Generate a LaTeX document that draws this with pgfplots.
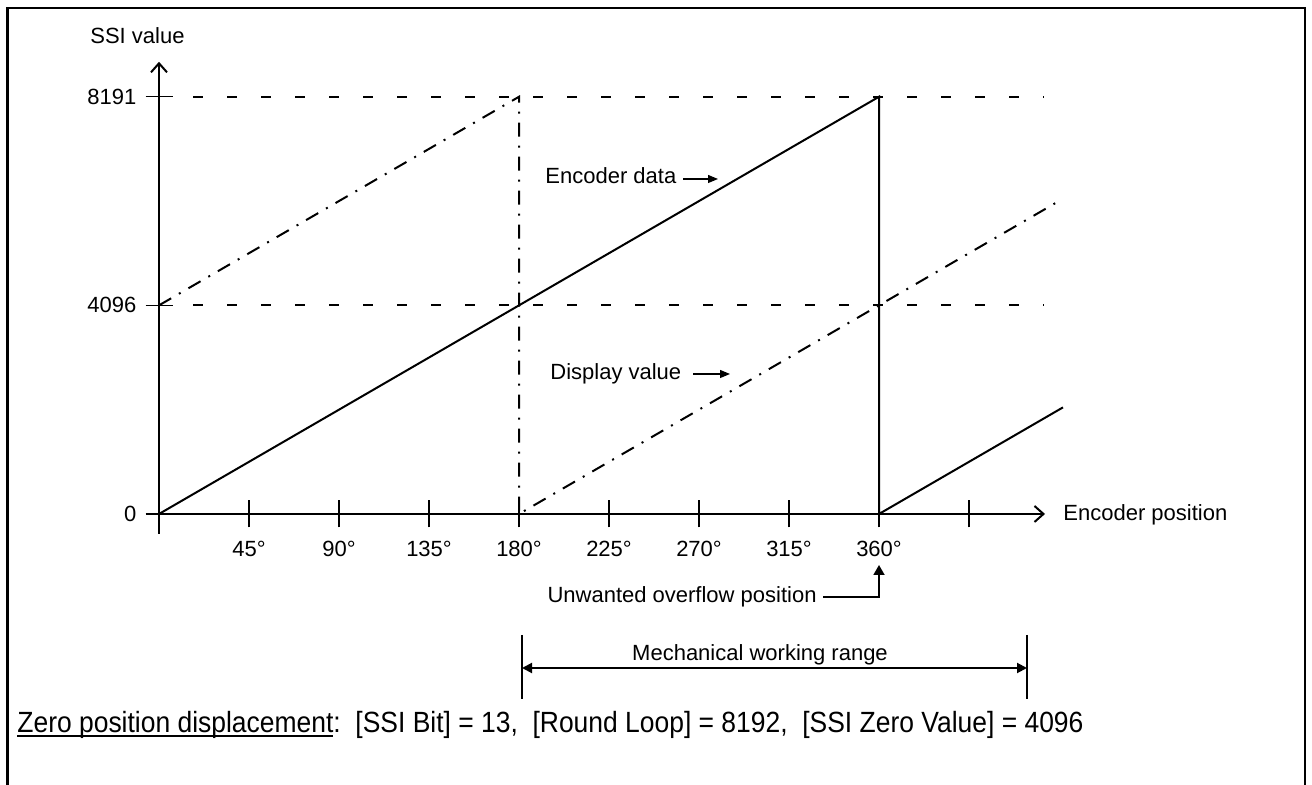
\documentclass[border=0pt]{standalone}
\usepackage{pgfplots}
\pgfplotsset{compat=1.18}
\usepackage{fontspec}
\setmainfont{Liberation Sans}
\usetikzlibrary{arrows.meta}

\newlength\ulw
\newcommand\ul[1]{\settowidth\ulw{#1}\rlap{\rule[-1.7pt]{\ulw}{0.75pt}}#1}

\begin{document}
\begin{tikzpicture}[font=\fontsize{11}{13}\selectfont]
% page is 1312 x 785 px, 1 px = 0.5pt
\useasboundingbox (0,0) rectangle (656pt,-392.5pt);
\begin{axis}[
    at={(79.5pt,-267pt)}, anchor=south west,
    scale only axis, width=443pt, height=236.1pt,
    xmin=0, xmax=443, ymin=-393, ymax=8877,
    clip=false,
    axis lines=middle,
    axis line style={line width=1pt, -{Straight Barb[length=4.5pt,width=8pt]}},
    xtick={45,90,...,405},
    xticklabels={45°,90°,135°,180°,225°,270°,315°,360°,{}},
    ytick={0,4096,8191},
    yticklabels={0,4096,8191},
    hide obscured x ticks=false, hide obscured y ticks=false,
    major tick length=13.5pt, tick align=center,
    tick style={black, line width=0.6pt},
    tick label style={font=\fontsize{11}{13}\selectfont},
    /pgf/number format/assume math mode=true,
    xticklabel style={anchor=north, yshift=-3.5pt},
    yticklabel style={anchor=east, xshift=-1pt},
]
% encoder data (sawtooth)
\addplot[black, line width=1pt] coordinates {(0,0) (360,8191) (360,0) (452,2093)};
% display value, shifted by the zero value
\addplot[black, line width=1pt, dash pattern=on 7pt off 4.5pt on 1pt off 4.5pt]
    coordinates {(0,4096) (180,8191) (180,0) (450,6144)};
% reference levels
\addplot[black, line width=1.1pt, dash pattern=on 5pt off 12pt] coordinates {(17,8191) (442.5,8191)};
\addplot[black, line width=1.1pt, dash pattern=on 5pt off 12pt] coordinates {(17,4096) (442.5,4096)};
\end{axis}

\begin{scope}[x=0.5pt, y=-0.5pt]
% frame
\draw[line width=1.2pt] (7.5,785) -- (7.5,8) -- (1305,8) -- (1305,785);
\node[anchor=base west, inner sep=0] at (90,44) {SSI value};
\node[anchor=base west, inner sep=0] at (1063,521) {Encoder position};

\node[anchor=base west, inner sep=0] at (545,184) {Encoder data};
\draw[line width=0.6pt, -{Triangle[length=5pt,width=4pt]}] (683,179) -- (718,179);
\node[anchor=base west, inner sep=0] at (550,380) {Display value};
\draw[line width=0.6pt, -{Triangle[length=5pt,width=4pt]}] (693,374) -- (730,374);

\node[anchor=base east, inner sep=0] at (817,603) {Unwanted overflow position};
\draw[line width=0.9pt, -{Triangle[length=5pt,width=5.5pt]}] (823,597) -- (879,597) -- (879,565);

\draw[line width=1pt] (522,635) -- (522,699) (1027,635) -- (1027,699);
\draw[line width=1pt, {Triangle[length=5pt,width=5pt]}-{Triangle[length=5pt,width=5pt]}] (522,668) -- (1027,668);
\node[anchor=base, inner sep=0] at (760,661) {Mechanical working range};

\node[anchor=base west, inner sep=0] at (17,733) {\resizebox{533pt}{10.6pt}{\fontsize{12}{14}\selectfont
  \ul{Zero position displacement}:\ \ [SSI Bit] = 13,\ \ [Round Loop] = 8192,\ \ [SSI Zero Value] = 4096}};
\end{scope}
\end{tikzpicture}
\end{document}
